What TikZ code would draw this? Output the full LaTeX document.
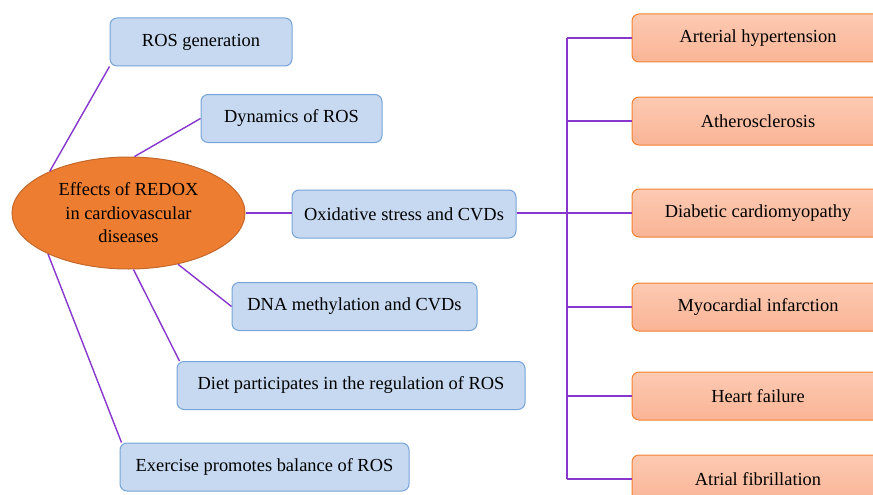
\documentclass[tikz,border=0pt]{standalone}
\usepackage{fontspec}
\setmainfont{Liberation Serif}
\usetikzlibrary{shapes.geometric, positioning, calc}
\definecolor{boxblue}{RGB}{198,217,240}
\definecolor{edgeblue}{RGB}{118,164,216}
\definecolor{rootorange}{RGB}{237,125,49}
\definecolor{rootedge}{RGB}{196,104,44}
\definecolor{peachtop}{RGB}{252,202,178}
\definecolor{peachbot}{RGB}{250,180,150}
\definecolor{peachedge}{RGB}{240,130,50}
\definecolor{linkviolet}{RGB}{135,55,205}

\begin{document}
\begin{tikzpicture}[x=1pt, y=-1pt, font=\fontsize{18.4}{23.5}\selectfont,
    bluebox/.style={draw=edgeblue, fill=boxblue, rounded corners=7pt, line width=1pt, minimum height=48pt, inner sep=0pt},
    peachbox/.style={draw=peachedge, top color=peachtop, bottom color=peachbot, rounded corners=7pt, line width=1pt, minimum width=252pt, minimum height=48pt, inner sep=0pt},
    link/.style={draw=linkviolet, line width=1.4pt}]
            \useasboundingbox (0,0) rectangle (873,495);
            \clip (0,0) rectangle (873,495);
            % centre
            \node[ellipse, draw=rootedge, fill=rootorange, line width=1pt, minimum width=233pt, minimum height=112pt, inner sep=0pt, align=center] (root) at (128.5,213) {Effects of REDOX\\in cardiovascular\\diseases};
            % left branches
            \node[bluebox, minimum width=182pt] (gen) at (201,42) {ROS generation};
            \node[bluebox, minimum width=181pt] (dyn) at (291.5,118.5) {Dynamics of ROS};
            \node[bluebox, minimum width=224pt] (oxi) at (404,214) {Oxidative stress and CVDs};
            \node[bluebox, minimum width=245pt] (dna) at (354.5,306.5) {DNA methylation and CVDs};
            \node[bluebox, minimum width=348pt] (diet) at (351,385.5) {Diet participates in the regulation of ROS};
            \node[bluebox, minimum width=289pt] (exer) at (264.5,467) {Exercise promotes balance of ROS};
            % diseases
            \node[peachbox] (hyp) at (758,38) {Arterial hypertension};
            \node[peachbox] (ath) at (758,121) {Atherosclerosis};
            \node[peachbox] (dcm) at (758,213) {Diabetic cardiomyopathy};
            \node[peachbox] (mi) at (758,307) {Myocardial infarction};
            \node[peachbox] (hf) at (758,396) {Heart failure};
            \node[peachbox] (af) at (758,479) {Atrial fibrillation};
            % connectors
            \draw[link] (root.152.5) -- (gen.south west);
            \draw[link] (root.84) -- (dyn.west);
            \draw[link] (root.east) -- (root.east -| oxi.west);
            \draw[link] (root.-46) -- (dna.west);
            \draw[link] (root.-85) -- ([xshift=3pt]diet.north west);
            \draw[link] (root.207.5) -- ([xshift=2pt]exer.north west);
            \coordinate (bustop) at (567,38);
            \coordinate (busbot) at (567,479);
            \draw[link] (bustop) -- (busbot);
            \draw[link] (oxi.east |- root.east) -- (root.east -| bustop);
            \foreach \d in {hyp, ath, dcm, mi, hf, af}
                \draw[link] (\d.west) -- (\d.west -| bustop);
        \end{tikzpicture}
\end{document}
